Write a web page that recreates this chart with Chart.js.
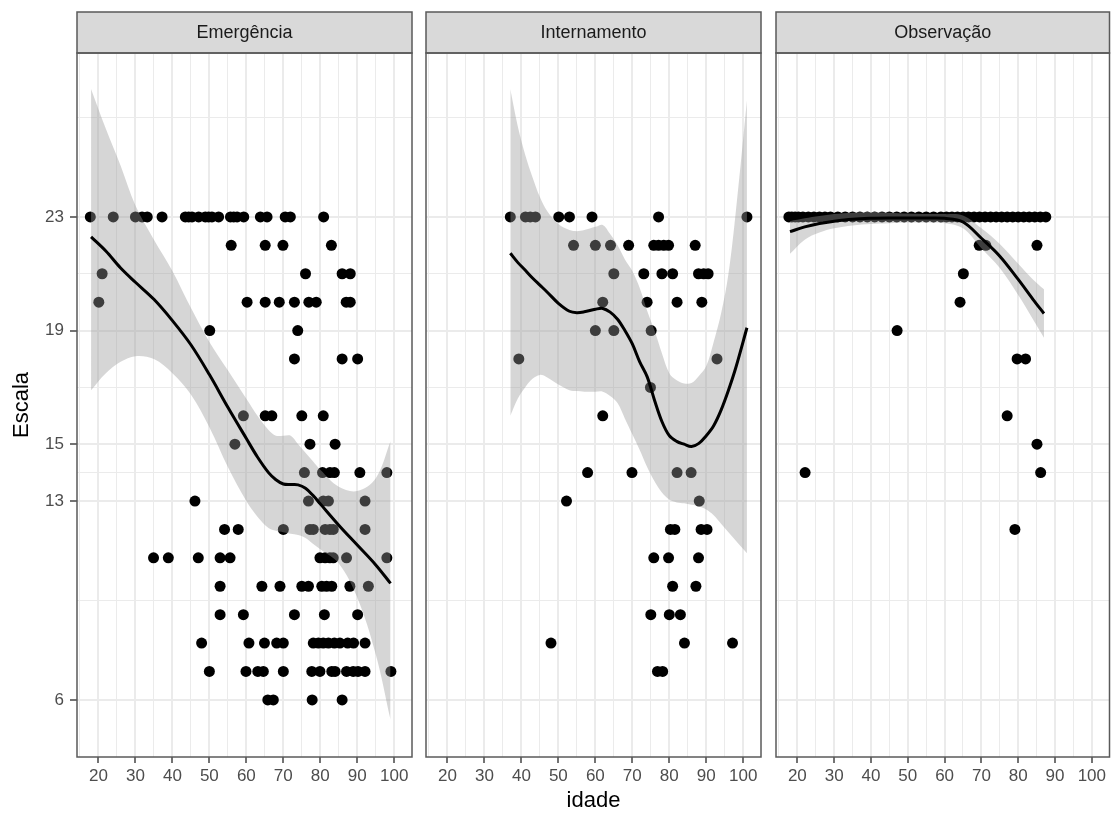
<!DOCTYPE html>
<html>
<head>
<meta charset="utf-8">
<script src="https://cdn.jsdelivr.net/npm/chart.js@4.4.1/dist/chart.umd.min.js"></script>
<style>
  html, body { margin: 0; padding: 0; background: #fff; }
  #wrap { position: relative; width: 1115px; height: 817px; }
  canvas { position: absolute; left: 0; top: 0; }
</style>
</head>
<body>
<div id="wrap">
  <canvas id="c1" width="1115" height="817"></canvas>
  <canvas id="c2" width="1115" height="817"></canvas>
  <canvas id="c3" width="1115" height="817"></canvas>
</div>
<script>
// facet names
const facets = ["Emergência", "Internamento", "Observação"];

// axis breaks (major) and the minor grid between them
const idadeBreaks = [20, 30, 40, 50, 60, 70, 80, 90, 100];
const idadeMinor = [15, 25, 35, 45, 55, 65, 75, 85, 95];
const escalaBreaks = [6, 13, 15, 19, 23];
const escalaMinor = [9.5, 14, 17, 21, 26.5];

// observed points: [escala, [idade, ...]]
const emergenciaRows = [
  [23, [17.8, 24.0, 30.0, 31.8, 33.2, 37.2, 43.5, 44.4, 45.3, 47.1, 48.9, 49.8, 50.7, 52.5, 55.7, 56.6, 57.5, 59.3, 63.8, 65.6, 70.5, 71.9, 80.9]],
  [22, [55.9, 65.1, 69.9, 83.0]],
  [21, [21.0, 76.0, 85.9, 88.1]],
  [20, [20.1, 60.2, 65.1, 68.9, 73.0, 76.9, 78.9, 87.0, 88.1]],
  [19, [50.1, 73.9]],
  [18, [73.0, 85.9, 90.1]],
  [16, [59.2, 65.1, 66.9, 75.0, 80.8]],
  [15, [56.9, 77.2, 84.0]],
  [14, [75.7, 80.6, 82.6, 83.8, 90.7, 98.0]],
  [13, [46.1, 76.8, 80.8, 82.2, 92.1]],
  [12, [54.1, 57.8, 70.0, 77.2, 78.1, 81.3, 82.6, 83.5, 92.1]],
  [11, [34.9, 38.9, 47.0, 52.9, 55.6, 79.9, 81.3, 82.6, 83.5, 87.1, 98.0]],
  [10, [52.9, 64.2, 69.1, 75.0, 76.8, 80.4, 81.7, 83.1, 88.0, 93.0]],
  [9, [52.9, 59.2, 73.0, 81.1, 90.1]],
  [8, [47.9, 60.7, 64.9, 68.2, 70.0, 78.1, 79.5, 80.8, 82.2, 83.8, 85.3, 87.4, 89.0, 92.1]],
  [7, [50.0, 59.9, 63.1, 64.6, 70.0, 77.7, 79.9, 83.1, 84.0, 87.1, 88.9, 90.2, 92.1, 99.1]],
  [6, [65.8, 67.3, 77.8, 85.9]],
];

const internamentoRows = [
  [23, [37.0, 41.1, 42.4, 43.8, 50.1, 53.0, 59.1, 77.1, 101.0]],
  [22, [54.1, 60.0, 64.1, 69.0, 75.8, 77.1, 78.5, 79.8, 87.0]],
  [21, [65.0, 73.1, 78.0, 80.9, 87.9, 89.3, 90.5]],
  [20, [62.0, 74.0, 82.1, 88.8]],
  [19, [60.0, 65.0, 75.1]],
  [18, [39.3, 92.9]],
  [17, [74.9]],
  [16, [62.0]],
  [14, [57.9, 69.9, 82.1, 85.9]],
  [13, [52.2, 88.1]],
  [12, [80.3, 81.5, 88.6, 90.2]],
  [11, [75.8, 79.8, 87.9]],
  [10, [80.9, 87.2]],
  [9, [75.0, 80.0, 83.0]],
  [8, [48.0, 84.1, 97.1]],
  [7, [76.8, 78.2]],
];

const observacaoRows = [
  [23, [17.7, 18.5, 19.4, 20.3, 21.5, 23.0, 24.5, 26.0, 27.5, 29.0, 31.0, 33.0, 35.0, 37.0, 39.0, 41.0, 43.0, 45.0, 47.0, 49.0, 51.0, 53.0, 55.0, 57.0, 59.0, 60.5, 62.0, 63.5, 65.0, 66.5, 68.0, 69.5, 71.0, 72.5, 74.0, 75.5, 77.0, 78.5, 80.0, 81.5, 83.0, 84.5, 86.0, 87.5]],
  [22, [69.4, 71.2, 85.1]],
  [21, [65.1]],
  [20, [64.2]],
  [19, [47.1]],
  [18, [79.7, 82.0]],
  [16, [77.0]],
  [15, [85.1]],
  [14, [22.1, 86.1]],
  [12, [79.1]],
];

// loess fit with its confidence band
const emgX     = [18, 22, 26, 30, 35, 40, 45, 50, 55, 60, 63, 66, 68, 70, 72, 74, 76, 78, 80, 85, 90, 95, 99];
const emgFit   = [22.3, 21.8, 21.2, 20.7, 20.1, 19.35, 18.5, 17.45, 16.3, 15.2, 14.55, 14.0, 13.75, 13.6, 13.58, 13.57, 13.45, 13.2, 12.9, 12.15, 11.45, 10.75, 10.1];
const emgUpper = [27.5, 26.1, 24.8, 23.4, 22.2, 21.1, 19.8, 18.6, 17.6, 16.6, 16.0, 15.5, 15.3, 15.3, 15.3, 15.0, 14.7, 14.4, 14.1, 13.5, 13.35, 13.8, 15.1];
const emgLower = [16.9, 17.5, 17.9, 18.1, 18.0, 17.5, 16.75, 15.6, 14.2, 13.0, 12.45, 12.05, 11.95, 11.9, 11.85, 11.8, 11.7, 11.5, 11.3, 10.8, 9.6, 7.6, 5.3];

const intX     = [37, 39, 41, 43, 45, 47, 50, 53, 55, 57, 60, 62, 64, 66, 68, 70, 72, 74, 76, 78, 80, 82, 84, 86, 88, 90, 92, 94, 96, 98, 101];
const intFit   = [21.72, 21.4, 21.13, 20.85, 20.6, 20.35, 19.96, 19.68, 19.63, 19.66, 19.75, 19.78, 19.65, 19.4, 19.0, 18.53, 17.9, 17.38, 16.55, 15.8, 15.3, 15.1, 15.0, 14.92, 15.03, 15.3, 15.65, 16.2, 16.9, 17.7, 19.1];
const intUpper = [27.5, 26.2, 25.2, 24.4, 23.7, 23.2, 22.75, 22.54, 22.5, 22.54, 22.65, 22.72, 22.4, 22.0, 21.5, 21.1, 20.5, 19.7, 19.0, 18.2, 17.5, 17.25, 17.14, 17.15, 17.4, 17.75, 18.6, 19.6, 21.0, 23.2, 27.1];
const intLower = [16.0, 16.6, 17.0, 17.3, 17.44, 17.35, 17.1, 16.9, 16.87, 16.85, 16.85, 16.85, 16.7, 16.45, 15.9, 15.35, 14.8, 14.2, 13.7, 13.3, 13.05, 12.95, 12.92, 12.87, 12.82, 12.7, 12.5, 12.2, 11.9, 11.6, 11.16];

const obsX     = [18, 22, 26, 30, 35, 40, 45, 50, 55, 60, 65, 70, 75, 80, 84, 87];
const obsFit   = [22.48, 22.65, 22.77, 22.85, 22.92, 22.95, 22.96, 22.96, 22.96, 22.95, 22.82, 22.25, 21.62, 20.8, 20.1, 19.6];
const obsUpper = [22.85, 22.95, 23.03, 23.1, 23.15, 23.17, 23.15, 23.12, 23.1, 23.1, 23.05, 22.6, 22.05, 21.35, 20.8, 20.45];
const obsLower = [21.7, 22.2, 22.45, 22.6, 22.7, 22.75, 22.78, 22.8, 22.8, 22.78, 22.6, 21.9, 21.2, 20.25, 19.4, 18.75];

// page geometry (ggplot facet layout)
const W = 1115, H = 817;
const STRIP_TOP = 12, PANEL_TOP = 53, PANEL_BOTTOM = 757;
const panelLeft = [77, 426, 776];
const panelRight = [412, 761, 1111];

Chart.defaults.font.family = "'Liberation Sans', Arial, Helvetica, sans-serif";

const stripPlugin = {
  id: "strip",
  afterDraw(chart, args, opts) {
    const { ctx, chartArea: a } = chart;
    ctx.save();
    ctx.fillStyle = "#d9d9d9";
    ctx.fillRect(a.left, STRIP_TOP, a.right - a.left, a.top - STRIP_TOP);
    ctx.strokeStyle = "#5a5a5a";
    ctx.lineWidth = 1.5;
    ctx.strokeRect(a.left, STRIP_TOP, a.right - a.left, a.top - STRIP_TOP);
    ctx.strokeRect(a.left, a.top, a.right - a.left, a.bottom - a.top);
    ctx.fillStyle = "#1a1a1a";
    ctx.font = "18px 'Liberation Sans', Arial, sans-serif";
    ctx.textAlign = "center";
    ctx.textBaseline = "middle";
    ctx.fillText(opts.text, (a.left + a.right) / 2, (STRIP_TOP + a.top) / 2 + 1);
    ctx.restore();
  },
};

function toPoints(rows) {
  const pts = [];
  rows.forEach(([escala, ages]) => ages.forEach((a) => pts.push({ x: a, y: escala })));
  return pts;
}

function zip(xs, ys) {
  return xs.map((x, i) => ({ x, y: ys[i] }));
}

function makePanel(i, rows, sx, fit, lower, upper) {
  const first = i === 0;
  const middle = i === 1;
  const isMajorX = (v) => idadeBreaks.includes(v);
  const isMajorY = (v) => escalaBreaks.includes(v);

  return new Chart(document.getElementById("c" + (i + 1)), {
    type: "line",
    data: {
      datasets: [
        {
          data: toPoints(rows),
          showLine: false,
          pointRadius: 5.5,
          pointBackgroundColor: "#000",
          pointBorderWidth: 0,
          order: 3,
        },
        {
          data: zip(sx, upper),
          borderWidth: 0,
          pointRadius: 0,
          tension: 0.35,
          fill: "+1",
          backgroundColor: "rgba(153,153,153,0.4)",
          order: 2,
        },
        {
          data: zip(sx, lower),
          borderWidth: 0,
          pointRadius: 0,
          tension: 0.35,
          fill: false,
          order: 2,
        },
        {
          data: zip(sx, fit),
          borderColor: "#000",
          borderWidth: 3,
          pointRadius: 0,
          tension: 0.35,
          fill: false,
          order: 1,
        },
      ],
    },
    options: {
      responsive: false,
      devicePixelRatio: 1,
      animation: false,
      events: [],
      layout: {
        padding: {
          left: first ? 0 : panelLeft[i],
          right: W - panelRight[i],
          top: PANEL_TOP,
          bottom: 0,
        },
      },
      plugins: {
        legend: { display: false },
        tooltip: { enabled: false },
        strip: { text: facets[i] },
      },
      scales: {
        x: {
          type: "linear",
          min: 14.2,
          max: 104.8,
          afterBuildTicks: (s) => {
            s.ticks = idadeBreaks.concat(idadeMinor).sort((a, b) => a - b).map((v) => ({ value: v }));
          },
          afterFit: (s) => { s.height = H - PANEL_BOTTOM; },
          border: { display: false },
          grid: {
            color: "#ebebeb",
            lineWidth: (c) => (isMajorX(c.tick.value) ? 2 : 1),
            tickColor: (c) => (isMajorX(c.tick.value) ? "#444" : "rgba(0,0,0,0)"),
            tickWidth: 1.5,
            tickLength: 6,
          },
          ticks: {
            autoSkip: false,
            maxRotation: 0,
            padding: 3,
            color: "#4d4d4d",
            font: { size: 17 },
            callback: (v) => (isMajorX(v) ? String(v) : ""),
          },
          title: {
            display: middle,
            text: "idade",
            color: "#000",
            font: { size: 22 },
            padding: { top: 0, bottom: 3 },
          },
        },
        y: {
          type: "linear",
          min: 3.99,
          max: 28.77,
          afterBuildTicks: (s) => {
            s.ticks = escalaBreaks.concat(escalaMinor).sort((a, b) => a - b).map((v) => ({ value: v }));
          },
          afterFit: (s) => { s.width = first ? panelLeft[0] : 0; },
          border: { display: false },
          grid: {
            color: "#ebebeb",
            lineWidth: (c) => (isMajorY(c.tick.value) ? 2 : 1),
            tickColor: (c) => (isMajorY(c.tick.value) ? "#444" : "rgba(0,0,0,0)"),
            tickWidth: 1.5,
            tickLength: 7,
            drawTicks: first,
          },
          ticks: {
            display: first,
            autoSkip: false,
            padding: 6,
            color: "#4d4d4d",
            font: { size: 17 },
            callback: (v) => (isMajorY(v) ? String(v) : ""),
          },
          title: {
            display: first,
            text: "Escala",
            color: "#000",
            font: { size: 22 },
            padding: { top: 9, bottom: 0 },
          },
        },
      },
    },
    plugins: [stripPlugin],
  });
}

makePanel(0, emergenciaRows, emgX, emgFit, emgLower, emgUpper);
makePanel(1, internamentoRows, intX, intFit, intLower, intUpper);
makePanel(2, observacaoRows, obsX, obsFit, obsLower, obsUpper);
</script>
</body>
</html>
